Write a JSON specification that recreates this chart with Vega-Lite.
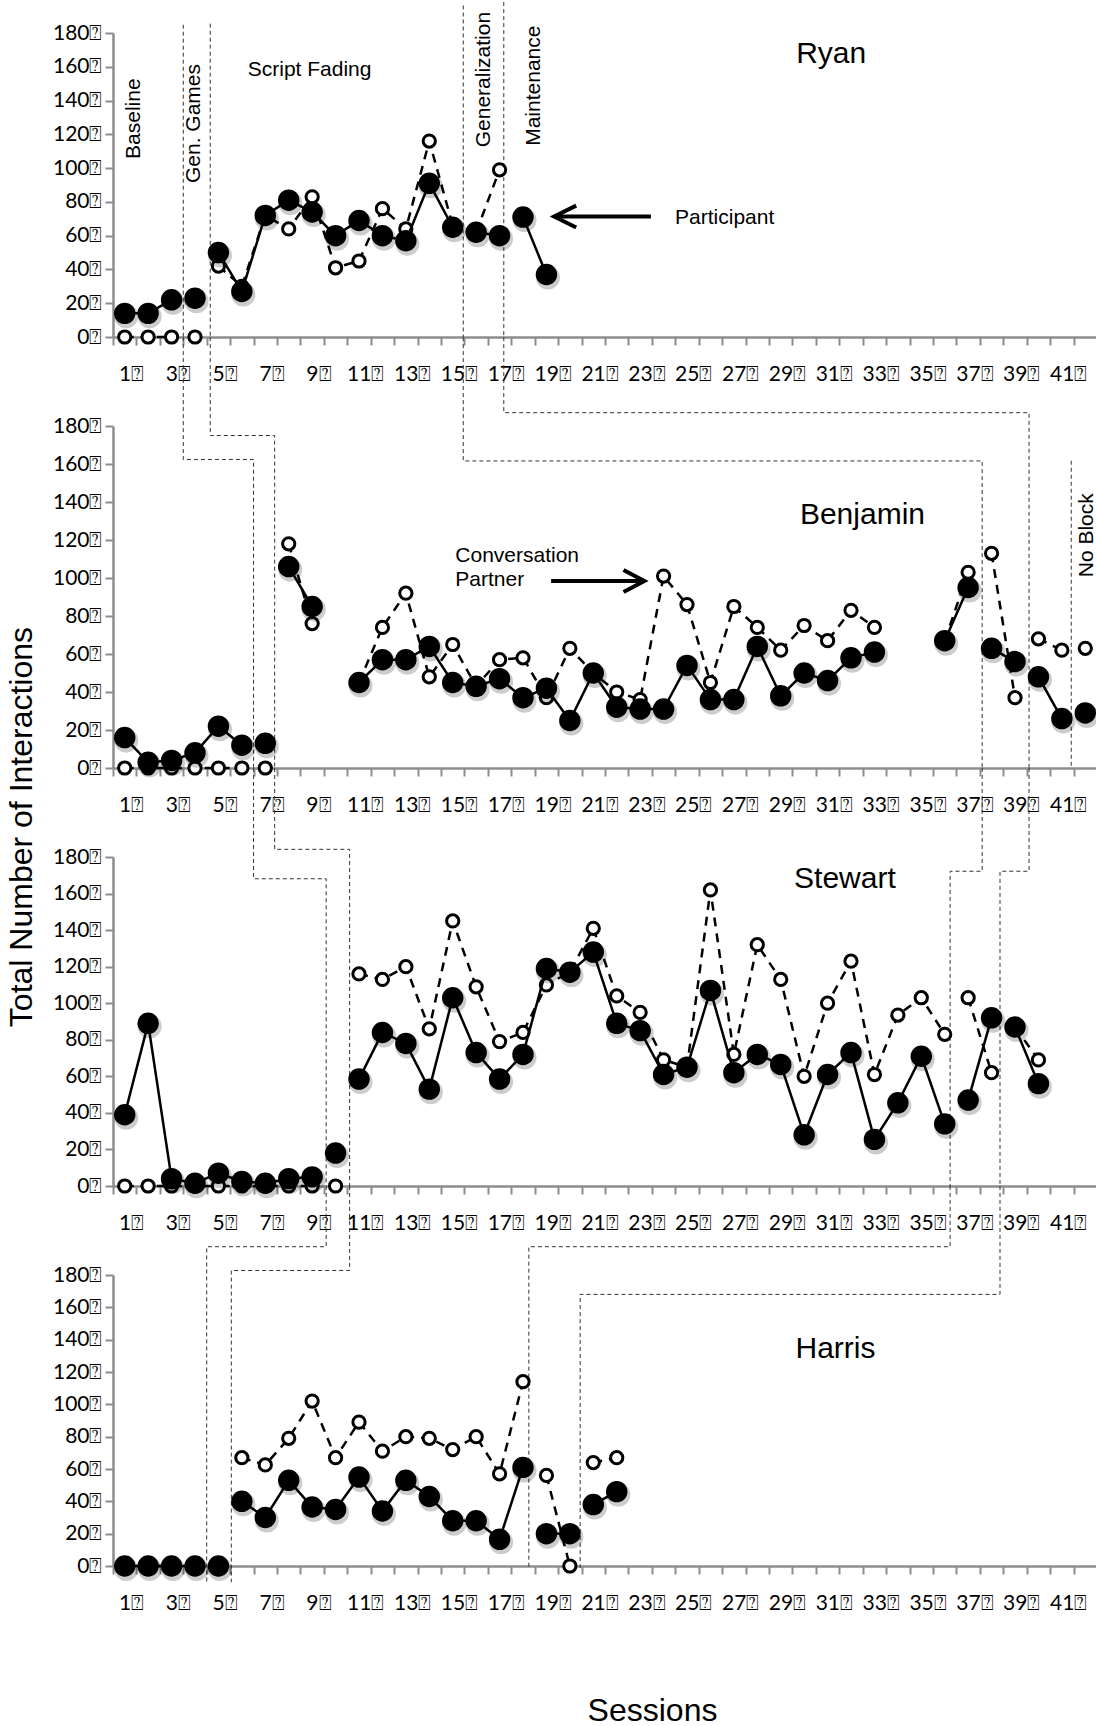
{
  "$schema": "https://vega.github.io/schema/vega-lite/v6.json",
  "background": "white",
  "padding": {"left": 6, "top": 0, "right": 0, "bottom": 0},
  "title": {"text": "Total Number of Interactions", "orient": "left", "anchor": "middle", "font": "Liberation Sans", "fontSize": 32, "fontWeight": "normal", "color": "#000", "offset": 13, "dx": 36},
  "spacing": 89,
  "bounds": "flush",
  "datasets": {
    "obs": [
      {"p":"R","s":1,"ph":"B","P":14,"C":0},{"p":"R","s":2,"ph":"B","P":14,"C":0},{"p":"R","s":3,"ph":"B","P":22,"C":0},{"p":"R","s":4,"ph":"G","P":23,"C":0},
      {"p":"R","s":5,"ph":"S","P":50,"C":42},{"p":"R","s":6,"ph":"S","P":27,"C":30},{"p":"R","s":7,"ph":"S","P":72,"C":72},{"p":"R","s":8,"ph":"S","P":81,"C":64},
      {"p":"R","s":9,"ph":"S","P":74,"C":83},{"p":"R","s":10,"ph":"S","P":60,"C":41},{"p":"R","s":11,"ph":"S","P":69,"C":45},{"p":"R","s":12,"ph":"S","P":60,"C":76},
      {"p":"R","s":13,"ph":"S","P":57,"C":64},{"p":"R","s":14,"ph":"S","P":91,"C":116},{"p":"R","s":15,"ph":"S","P":65,"C":66},{"p":"R","s":16,"ph":"Z","P":62,"C":62},
      {"p":"R","s":17,"ph":"Z","P":60,"C":99},{"p":"R","s":18,"ph":"M","P":71,"C":null},{"p":"R","s":19,"ph":"M","P":37,"C":null},

      {"p":"B","s":1,"ph":"B","P":16,"C":0},{"p":"B","s":2,"ph":"B","P":3,"C":0},{"p":"B","s":3,"ph":"B","P":4,"C":0},{"p":"B","s":4,"ph":"B","P":8,"C":0},
      {"p":"B","s":5,"ph":"B","P":22,"C":0},{"p":"B","s":6,"ph":"B","P":12,"C":0},{"p":"B","s":7,"ph":"G","P":13,"C":0},
      {"p":"B","s":8,"ph":"S","P":106,"C":118},{"p":"B","s":9,"ph":"S","P":85,"C":76},{"p":"B","s":10,"ph":"S","P":null,"C":null},
      {"p":"B","s":11,"ph":"S","P":45,"C":45},{"p":"B","s":12,"ph":"S","P":57,"C":74},{"p":"B","s":13,"ph":"S","P":57,"C":92},{"p":"B","s":14,"ph":"S","P":64,"C":48},
      {"p":"B","s":15,"ph":"S","P":45,"C":65},{"p":"B","s":16,"ph":"S","P":43,"C":43},{"p":"B","s":17,"ph":"S","P":47,"C":57},{"p":"B","s":18,"ph":"S","P":37,"C":58},
      {"p":"B","s":19,"ph":"S","P":42,"C":37},{"p":"B","s":20,"ph":"S","P":25,"C":63},{"p":"B","s":21,"ph":"S","P":50,"C":50},{"p":"B","s":22,"ph":"S","P":32,"C":40},
      {"p":"B","s":23,"ph":"S","P":31,"C":36},{"p":"B","s":24,"ph":"S","P":31,"C":101},{"p":"B","s":25,"ph":"S","P":54,"C":86},{"p":"B","s":26,"ph":"S","P":36,"C":45},
      {"p":"B","s":27,"ph":"S","P":36,"C":85},{"p":"B","s":28,"ph":"S","P":64,"C":74},{"p":"B","s":29,"ph":"S","P":38,"C":62},{"p":"B","s":30,"ph":"S","P":50,"C":75},
      {"p":"B","s":31,"ph":"S","P":46,"C":67},{"p":"B","s":32,"ph":"S","P":58,"C":83},{"p":"B","s":33,"ph":"S","P":61,"C":74},{"p":"B","s":34,"ph":"S","P":null,"C":null},
      {"p":"B","s":35,"ph":"S","P":null,"C":null},{"p":"B","s":36,"ph":"S","P":67,"C":67},{"p":"B","s":37,"ph":"S","P":95,"C":103},
      {"p":"B","s":38,"ph":"Z","P":63,"C":113},{"p":"B","s":39,"ph":"Z","P":56,"C":37},{"p":"B","s":40,"ph":"M","P":48,"C":68},{"p":"B","s":41,"ph":"M","P":26,"C":62},
      {"p":"B","s":42,"ph":"N","P":29,"C":63},

      {"p":"S","s":1,"ph":"B","P":39,"C":0},{"p":"S","s":2,"ph":"B","P":89,"C":0},{"p":"S","s":3,"ph":"B","P":4,"C":0},{"p":"S","s":4,"ph":"B","P":1.5,"C":0},
      {"p":"S","s":5,"ph":"B","P":7,"C":0},{"p":"S","s":6,"ph":"B","P":2.5,"C":0},{"p":"S","s":7,"ph":"B","P":1.5,"C":0},{"p":"S","s":8,"ph":"B","P":4,"C":0},
      {"p":"S","s":9,"ph":"B","P":5,"C":0},{"p":"S","s":10,"ph":"G","P":18,"C":0},
      {"p":"S","s":11,"ph":"S","P":58.5,"C":116},{"p":"S","s":12,"ph":"S","P":84,"C":113},{"p":"S","s":13,"ph":"S","P":78,"C":120},{"p":"S","s":14,"ph":"S","P":53,"C":86},
      {"p":"S","s":15,"ph":"S","P":103,"C":145},{"p":"S","s":16,"ph":"S","P":73,"C":109},{"p":"S","s":17,"ph":"S","P":58.5,"C":79},{"p":"S","s":18,"ph":"S","P":72,"C":84},
      {"p":"S","s":19,"ph":"S","P":119,"C":110},{"p":"S","s":20,"ph":"S","P":117,"C":117},{"p":"S","s":21,"ph":"S","P":128,"C":141},{"p":"S","s":22,"ph":"S","P":89,"C":104},
      {"p":"S","s":23,"ph":"S","P":85,"C":95},{"p":"S","s":24,"ph":"S","P":61,"C":69},{"p":"S","s":25,"ph":"S","P":65,"C":65},{"p":"S","s":26,"ph":"S","P":107,"C":162},
      {"p":"S","s":27,"ph":"S","P":62,"C":72},{"p":"S","s":28,"ph":"S","P":72,"C":132},{"p":"S","s":29,"ph":"S","P":66.5,"C":113},{"p":"S","s":30,"ph":"S","P":28,"C":60},
      {"p":"S","s":31,"ph":"S","P":61,"C":100},{"p":"S","s":32,"ph":"S","P":73,"C":123},{"p":"S","s":33,"ph":"S","P":25.5,"C":61},{"p":"S","s":34,"ph":"S","P":45.5,"C":93.5},
      {"p":"S","s":35,"ph":"S","P":71,"C":103},{"p":"S","s":36,"ph":"S","P":34,"C":83},
      {"p":"S","s":37,"ph":"Z","P":47,"C":103},{"p":"S","s":38,"ph":"Z","P":92,"C":62},{"p":"S","s":39,"ph":"M","P":87,"C":87},{"p":"S","s":40,"ph":"M","P":56,"C":69},

      {"p":"H","s":1,"ph":"B","P":0,"C":0},{"p":"H","s":2,"ph":"B","P":0,"C":0},{"p":"H","s":3,"ph":"B","P":0,"C":0},{"p":"H","s":4,"ph":"B","P":0,"C":0},
      {"p":"H","s":5,"ph":"G","P":0,"C":0},
      {"p":"H","s":6,"ph":"S","P":40,"C":67},{"p":"H","s":7,"ph":"S","P":30,"C":62.5},{"p":"H","s":8,"ph":"S","P":53,"C":79},{"p":"H","s":9,"ph":"S","P":36.5,"C":102},
      {"p":"H","s":10,"ph":"S","P":35,"C":67},{"p":"H","s":11,"ph":"S","P":55,"C":89},{"p":"H","s":12,"ph":"S","P":34,"C":71},{"p":"H","s":13,"ph":"S","P":53,"C":80},
      {"p":"H","s":14,"ph":"S","P":43,"C":79},{"p":"H","s":15,"ph":"S","P":28,"C":72},{"p":"H","s":16,"ph":"S","P":28,"C":80},{"p":"H","s":17,"ph":"S","P":16.5,"C":57},
      {"p":"H","s":18,"ph":"S","P":61,"C":114},{"p":"H","s":19,"ph":"Z","P":20,"C":56},{"p":"H","s":20,"ph":"Z","P":20,"C":0},
      {"p":"H","s":21,"ph":"M","P":38,"C":64},{"p":"H","s":22,"ph":"M","P":46,"C":67}
    ],
    "phases": [
      {"p":"R","id":"A","o":1,"s":3.5,"v":184.9},{"p":"R","id":"A","o":2,"s":3.5,"v":0},
      {"p":"R","id":"B","o":1,"s":4.65,"v":185.5},{"p":"R","id":"B","o":2,"s":4.65,"v":0},
      {"p":"R","id":"C","o":1,"s":15.45,"v":196.3},{"p":"R","id":"C","o":2,"s":15.45,"v":0},
      {"p":"R","id":"D","o":1,"s":17.18,"v":198.3},{"p":"R","id":"D","o":2,"s":17.18,"v":0},

      {"p":"B","id":"A","o":1,"s":3.5,"v":226.8},{"p":"B","id":"A","o":2,"s":3.5,"v":162.4},{"p":"B","id":"A","o":3,"s":6.5,"v":162.4},{"p":"B","id":"A","o":4,"s":6.5,"v":0},
      {"p":"B","id":"B","o":1,"s":4.65,"v":226.8},{"p":"B","id":"B","o":2,"s":4.65,"v":175},{"p":"B","id":"B","o":3,"s":7.4,"v":175},{"p":"B","id":"B","o":4,"s":7.4,"v":0},
      {"p":"B","id":"C","o":1,"s":15.45,"v":226.8},{"p":"B","id":"C","o":2,"s":15.45,"v":161.6},{"p":"B","id":"C","o":3,"s":37.6,"v":161.6},{"p":"B","id":"C","o":4,"s":37.6,"v":0},
      {"p":"B","id":"D","o":1,"s":17.18,"v":226.8},{"p":"B","id":"D","o":2,"s":17.18,"v":187},{"p":"B","id":"D","o":3,"s":39.6,"v":187},{"p":"B","id":"D","o":4,"s":39.6,"v":0},
      {"p":"B","id":"N","o":1,"s":41.4,"v":161.7},{"p":"B","id":"N","o":2,"s":41.4,"v":0},

      {"p":"S","id":"A","o":1,"s":6.5,"v":228.7},{"p":"S","id":"A","o":2,"s":6.5,"v":168.1},{"p":"S","id":"A","o":3,"s":9.6,"v":168.1},{"p":"S","id":"A","o":4,"s":9.6,"v":0},
      {"p":"S","id":"B","o":1,"s":7.4,"v":228.7},{"p":"S","id":"B","o":2,"s":7.4,"v":184.2},{"p":"S","id":"B","o":3,"s":10.6,"v":184.2},{"p":"S","id":"B","o":4,"s":10.6,"v":0},
      {"p":"S","id":"C","o":1,"s":37.6,"v":228.7},{"p":"S","id":"C","o":2,"s":37.6,"v":172.2},{"p":"S","id":"C","o":3,"s":36.23,"v":172.2},{"p":"S","id":"C","o":4,"s":36.23,"v":0},
      {"p":"S","id":"D","o":1,"s":39.6,"v":228.7},{"p":"S","id":"D","o":2,"s":39.6,"v":172.2},{"p":"S","id":"D","o":3,"s":38.36,"v":172.2},{"p":"S","id":"D","o":4,"s":38.36,"v":0},

      {"p":"H","id":"A","o":1,"s":9.6,"v":235.1},{"p":"H","id":"A","o":2,"s":9.6,"v":197.5},{"p":"H","id":"A","o":3,"s":4.5,"v":197.5},{"p":"H","id":"A","o":4,"s":4.5,"v":-10},
      {"p":"H","id":"B","o":1,"s":10.6,"v":235.1},{"p":"H","id":"B","o":2,"s":10.6,"v":182.8},{"p":"H","id":"B","o":3,"s":5.55,"v":182.8},{"p":"H","id":"B","o":4,"s":5.55,"v":-10},
      {"p":"H","id":"C","o":1,"s":36.23,"v":235.1},{"p":"H","id":"C","o":2,"s":36.23,"v":197.5},{"p":"H","id":"C","o":3,"s":18.25,"v":197.5},{"p":"H","id":"C","o":4,"s":18.25,"v":-2},
      {"p":"H","id":"D","o":1,"s":38.36,"v":235.1},{"p":"H","id":"D","o":2,"s":38.36,"v":168},{"p":"H","id":"D","o":3,"s":20.44,"v":168},{"p":"H","id":"D","o":4,"s":20.44,"v":-2}
    ],
    "names": [
      {"p":"R","s":29.66,"v":167.8,"t":"Ryan"},
      {"p":"B","s":29.82,"v":133.4,"t":"Benjamin"},
      {"p":"S","s":29.57,"v":168.1,"t":"Stewart"},
      {"p":"H","s":29.63,"v":134,"t":"Harris"}
    ],
    "notes": [
      {"p":"R","s":6.25,"v":157.9,"t":"Script Fading"},
      {"p":"R","s":24.49,"v":70.2,"t":"Participant"},
      {"p":"B","s":15.11,"v":111.5,"t":"Conversation"},
      {"p":"B","s":15.11,"v":99.2,"t":"Partner"}
    ],
    "vnotes": [
      {"p":"R","s":1.4,"v":129.3,"t":"Baseline"},
      {"p":"R","s":3.97,"v":126.4,"t":"Gen. Games"},
      {"p":"R","s":16.35,"v":152.4,"t":"Generalization"},
      {"p":"R","s":18.49,"v":148.8,"t":"Maintenance"},
      {"p":"B","s":42.08,"v":122.5,"t":"No Block"}
    ],
    "arrows": [
      {"p":"R","id":"s","o":1,"s":19.33,"v":71.3},{"p":"R","id":"s","o":2,"s":23.46,"v":71.3},
      {"p":"R","id":"h","o":1,"s":20.27,"v":77.8},{"p":"R","id":"h","o":2,"s":19.33,"v":71.3},{"p":"R","id":"h","o":3,"s":20.27,"v":64.8},
      {"p":"B","id":"s","o":1,"s":19.2,"v":98.4},{"p":"B","id":"s","o":2,"s":23.18,"v":98.4},
      {"p":"B","id":"h","o":1,"s":22.29,"v":104.2},{"p":"B","id":"h","o":2,"s":23.18,"v":98.4},{"p":"B","id":"h","o":3,"s":22.29,"v":92.6}
    ]
  },
  "vconcat": [
    {
      "width": 984, "height": 304,
      "encoding": {
        "x": {"field": "s", "type": "quantitative", "scale": {"domain": [0.5, 42.5], "nice": false, "zero": false},
              "axis": {"title": null, "values": [0.5,1.5,2.5,3.5,4.5,5.5,6.5,7.5,8.5,9.5,10.5,11.5,12.5,13.5,14.5,15.5,16.5,17.5,18.5,19.5,20.5,21.5,22.5,23.5,24.5,25.5,26.5,27.5,28.5,29.5,30.5,31.5,32.5,33.5,34.5,35.5,36.5,37.5,38.5,39.5,40.5,41.5,42.5],
                       "labelExpr": "(datum.value + 0.5) % 2 == 1 && datum.value < 42 ? (datum.value + 0.5) + '\u2370' : ''",
                       "labelOffset": 18, "labelPadding": 18, "tickSize": 8, "labelOverlap": false, "labelFlush": false, "labelBound": false}},
        "y": {"field": "v", "type": "quantitative", "scale": {"domain": [0, 180], "nice": false, "zero": false},
              "axis": {"title": null, "values": [0,20,40,60,80,100,120,140,160,180], "labelExpr": "datum.value + '\u2370'", "tickSize": 8, "labelPadding": 3, "labelFlush": false, "labelOverlap": false}}
      },
      "layer": [
        {"data": {"name": "phases"}, "transform": [{"filter": "datum.p == 'R'"}], "mark": {"type": "line", "color": "#333", "strokeWidth": 1, "strokeDash": [4, 3]}, "encoding": {"detail": {"field": "id"}, "order": {"field": "o"}}},
        {"data": {"name": "obs"}, "transform": [{"filter": "datum.p == 'R'"}, {"fold": ["P", "C"], "as": ["w", "v"]}, {"filter": "datum.w == 'C'"}], "mark": {"type": "line", "color": "#000", "strokeWidth": 2.5, "strokeDash": [9, 7]}, "encoding": {"detail": {"field": "ph"}}},
        {"data": {"name": "obs"}, "transform": [{"filter": "datum.p == 'R'"}, {"fold": ["P", "C"], "as": ["w", "v"]}, {"filter": "datum.w == 'C'"}], "mark": {"type": "point", "shape": "circle", "filled": true, "fill": "#fff", "stroke": "#000", "strokeWidth": 3, "opacity": 1, "size": 150}},
        {"data": {"name": "obs"}, "transform": [{"filter": "datum.p == 'R'"}, {"fold": ["P", "C"], "as": ["w", "v"]}, {"filter": "datum.w == 'P'"}], "mark": {"type": "line", "color": "#000", "strokeWidth": 2.5}, "encoding": {"detail": {"field": "ph"}}},
        {"data": {"name": "obs"}, "transform": [{"filter": "datum.p == 'R'"}, {"fold": ["P", "C"], "as": ["w", "v"]}, {"filter": "datum.w == 'P'"}], "mark": {"type": "point", "shape": "circle", "filled": true, "color": "#000", "opacity": 0.2, "size": 580, "xOffset": 1.5, "yOffset": 3}},
        {"data": {"name": "obs"}, "transform": [{"filter": "datum.p == 'R'"}, {"fold": ["P", "C"], "as": ["w", "v"]}, {"filter": "datum.w == 'P'"}], "mark": {"type": "point", "shape": "circle", "filled": true, "color": "#000", "opacity": 1, "size": 460}},
        {"data": {"name": "arrows"}, "transform": [{"filter": "datum.p == 'R'"}], "mark": {"type": "line", "color": "#000", "strokeWidth": 4, "strokeJoin": "miter"}, "encoding": {"detail": {"field": "id"}, "order": {"field": "o"}}},
        {"data": {"name": "names"}, "transform": [{"filter": "datum.p == 'R'"}], "mark": {"type": "text", "font": "Liberation Sans", "fontSize": 30, "align": "left", "baseline": "middle", "color": "#000"}, "encoding": {"text": {"field": "t"}}},
        {"data": {"name": "notes"}, "transform": [{"filter": "datum.p == 'R'"}], "mark": {"type": "text", "font": "Liberation Sans", "fontSize": 21, "align": "left", "baseline": "middle", "color": "#000"}, "encoding": {"text": {"field": "t"}}},
        {"data": {"name": "vnotes"}, "transform": [{"filter": "datum.p == 'R'"}], "mark": {"type": "text", "font": "Liberation Sans", "fontSize": 21, "align": "center", "baseline": "middle", "angle": 270, "color": "#000"}, "encoding": {"text": {"field": "t"}}}
      ]
    },
    {
      "width": 984, "height": 342,
      "encoding": {
        "x": {"field": "s", "type": "quantitative", "scale": {"domain": [0.5, 42.5], "nice": false, "zero": false},
              "axis": {"title": null, "values": [0.5,1.5,2.5,3.5,4.5,5.5,6.5,7.5,8.5,9.5,10.5,11.5,12.5,13.5,14.5,15.5,16.5,17.5,18.5,19.5,20.5,21.5,22.5,23.5,24.5,25.5,26.5,27.5,28.5,29.5,30.5,31.5,32.5,33.5,34.5,35.5,36.5,37.5,38.5,39.5,40.5,41.5,42.5],
                       "labelExpr": "(datum.value + 0.5) % 2 == 1 && datum.value < 42 ? (datum.value + 0.5) + '\u2370' : ''",
                       "labelOffset": 18, "labelPadding": 18, "tickSize": 8, "labelOverlap": false, "labelFlush": false, "labelBound": false}},
        "y": {"field": "v", "type": "quantitative", "scale": {"domain": [0, 180], "nice": false, "zero": false},
              "axis": {"title": null, "values": [0,20,40,60,80,100,120,140,160,180], "labelExpr": "datum.value + '\u2370'", "tickSize": 8, "labelPadding": 3, "labelFlush": false, "labelOverlap": false}}
      },
      "layer": [
        {"data": {"name": "phases"}, "transform": [{"filter": "datum.p == 'B'"}], "mark": {"type": "line", "color": "#333", "strokeWidth": 1, "strokeDash": [4, 3]}, "encoding": {"detail": {"field": "id"}, "order": {"field": "o"}}},
        {"data": {"name": "obs"}, "transform": [{"filter": "datum.p == 'B'"}, {"fold": ["P", "C"], "as": ["w", "v"]}, {"filter": "datum.w == 'C'"}], "mark": {"type": "line", "color": "#000", "strokeWidth": 2.5, "strokeDash": [9, 7]}, "encoding": {"detail": {"field": "ph"}}},
        {"data": {"name": "obs"}, "transform": [{"filter": "datum.p == 'B'"}, {"fold": ["P", "C"], "as": ["w", "v"]}, {"filter": "datum.w == 'C'"}], "mark": {"type": "point", "shape": "circle", "filled": true, "fill": "#fff", "stroke": "#000", "strokeWidth": 3, "opacity": 1, "size": 150}},
        {"data": {"name": "obs"}, "transform": [{"filter": "datum.p == 'B'"}, {"fold": ["P", "C"], "as": ["w", "v"]}, {"filter": "datum.w == 'P'"}], "mark": {"type": "line", "color": "#000", "strokeWidth": 2.5}, "encoding": {"detail": {"field": "ph"}}},
        {"data": {"name": "obs"}, "transform": [{"filter": "datum.p == 'B'"}, {"fold": ["P", "C"], "as": ["w", "v"]}, {"filter": "datum.w == 'P'"}], "mark": {"type": "point", "shape": "circle", "filled": true, "color": "#000", "opacity": 0.2, "size": 580, "xOffset": 1.5, "yOffset": 3}},
        {"data": {"name": "obs"}, "transform": [{"filter": "datum.p == 'B'"}, {"fold": ["P", "C"], "as": ["w", "v"]}, {"filter": "datum.w == 'P'"}], "mark": {"type": "point", "shape": "circle", "filled": true, "color": "#000", "opacity": 1, "size": 460}},
        {"data": {"name": "arrows"}, "transform": [{"filter": "datum.p == 'B'"}], "mark": {"type": "line", "color": "#000", "strokeWidth": 4, "strokeJoin": "miter"}, "encoding": {"detail": {"field": "id"}, "order": {"field": "o"}}},
        {"data": {"name": "names"}, "transform": [{"filter": "datum.p == 'B'"}], "mark": {"type": "text", "font": "Liberation Sans", "fontSize": 30, "align": "left", "baseline": "middle", "color": "#000"}, "encoding": {"text": {"field": "t"}}},
        {"data": {"name": "notes"}, "transform": [{"filter": "datum.p == 'B'"}], "mark": {"type": "text", "font": "Liberation Sans", "fontSize": 21, "align": "left", "baseline": "middle", "color": "#000"}, "encoding": {"text": {"field": "t"}}},
        {"data": {"name": "vnotes"}, "transform": [{"filter": "datum.p == 'B'"}], "mark": {"type": "text", "font": "Liberation Sans", "fontSize": 21, "align": "center", "baseline": "middle", "angle": 270, "color": "#000"}, "encoding": {"text": {"field": "t"}}}
      ]
    },
    {
      "width": 984, "height": 329,
      "encoding": {
        "x": {"field": "s", "type": "quantitative", "scale": {"domain": [0.5, 42.5], "nice": false, "zero": false},
              "axis": {"title": null, "values": [0.5,1.5,2.5,3.5,4.5,5.5,6.5,7.5,8.5,9.5,10.5,11.5,12.5,13.5,14.5,15.5,16.5,17.5,18.5,19.5,20.5,21.5,22.5,23.5,24.5,25.5,26.5,27.5,28.5,29.5,30.5,31.5,32.5,33.5,34.5,35.5,36.5,37.5,38.5,39.5,40.5,41.5,42.5],
                       "labelExpr": "(datum.value + 0.5) % 2 == 1 && datum.value < 42 ? (datum.value + 0.5) + '\u2370' : ''",
                       "labelOffset": 18, "labelPadding": 18, "tickSize": 8, "labelOverlap": false, "labelFlush": false, "labelBound": false}},
        "y": {"field": "v", "type": "quantitative", "scale": {"domain": [0, 180], "nice": false, "zero": false},
              "axis": {"title": null, "values": [0,20,40,60,80,100,120,140,160,180], "labelExpr": "datum.value + '\u2370'", "tickSize": 8, "labelPadding": 3, "labelFlush": false, "labelOverlap": false}}
      },
      "layer": [
        {"data": {"name": "phases"}, "transform": [{"filter": "datum.p == 'S'"}], "mark": {"type": "line", "color": "#333", "strokeWidth": 1, "strokeDash": [4, 3]}, "encoding": {"detail": {"field": "id"}, "order": {"field": "o"}}},
        {"data": {"name": "obs"}, "transform": [{"filter": "datum.p == 'S'"}, {"fold": ["P", "C"], "as": ["w", "v"]}, {"filter": "datum.w == 'C'"}], "mark": {"type": "line", "color": "#000", "strokeWidth": 2.5, "strokeDash": [9, 7]}, "encoding": {"detail": {"field": "ph"}}},
        {"data": {"name": "obs"}, "transform": [{"filter": "datum.p == 'S'"}, {"fold": ["P", "C"], "as": ["w", "v"]}, {"filter": "datum.w == 'C'"}], "mark": {"type": "point", "shape": "circle", "filled": true, "fill": "#fff", "stroke": "#000", "strokeWidth": 3, "opacity": 1, "size": 150}},
        {"data": {"name": "obs"}, "transform": [{"filter": "datum.p == 'S'"}, {"fold": ["P", "C"], "as": ["w", "v"]}, {"filter": "datum.w == 'P'"}], "mark": {"type": "line", "color": "#000", "strokeWidth": 2.5}, "encoding": {"detail": {"field": "ph"}}},
        {"data": {"name": "obs"}, "transform": [{"filter": "datum.p == 'S'"}, {"fold": ["P", "C"], "as": ["w", "v"]}, {"filter": "datum.w == 'P'"}], "mark": {"type": "point", "shape": "circle", "filled": true, "color": "#000", "opacity": 0.2, "size": 580, "xOffset": 1.5, "yOffset": 3}},
        {"data": {"name": "obs"}, "transform": [{"filter": "datum.p == 'S'"}, {"fold": ["P", "C"], "as": ["w", "v"]}, {"filter": "datum.w == 'P'"}], "mark": {"type": "point", "shape": "circle", "filled": true, "color": "#000", "opacity": 1, "size": 460}},
        {"data": {"name": "names"}, "transform": [{"filter": "datum.p == 'S'"}], "mark": {"type": "text", "font": "Liberation Sans", "fontSize": 30, "align": "left", "baseline": "middle", "color": "#000"}, "encoding": {"text": {"field": "t"}}}
      ]
    },
    {
      "width": 984, "height": 291,
      "encoding": {
        "x": {"field": "s", "type": "quantitative", "scale": {"domain": [0.5, 42.5], "nice": false, "zero": false},
              "axis": {"title": "Sessions", "titleFont": "Liberation Sans", "titleFontSize": 32, "titleFontWeight": "normal", "titleColor": "#000", "titleX": 539, "titleY": 144, "titleAlign": "center", "titleBaseline": "middle",
                       "values": [0.5,1.5,2.5,3.5,4.5,5.5,6.5,7.5,8.5,9.5,10.5,11.5,12.5,13.5,14.5,15.5,16.5,17.5,18.5,19.5,20.5,21.5,22.5,23.5,24.5,25.5,26.5,27.5,28.5,29.5,30.5,31.5,32.5,33.5,34.5,35.5,36.5,37.5,38.5,39.5,40.5,41.5,42.5],
                       "labelExpr": "(datum.value + 0.5) % 2 == 1 && datum.value < 42 ? (datum.value + 0.5) + '\u2370' : ''",
                       "labelOffset": 18, "labelPadding": 18, "tickSize": 8, "labelOverlap": false, "labelFlush": false, "labelBound": false}},
        "y": {"field": "v", "type": "quantitative", "scale": {"domain": [0, 180], "nice": false, "zero": false},
              "axis": {"title": null, "values": [0,20,40,60,80,100,120,140,160,180], "labelExpr": "datum.value + '\u2370'", "tickSize": 8, "labelPadding": 3, "labelFlush": false, "labelOverlap": false}}
      },
      "layer": [
        {"data": {"name": "phases"}, "transform": [{"filter": "datum.p == 'H'"}], "mark": {"type": "line", "color": "#333", "strokeWidth": 1, "strokeDash": [4, 3]}, "encoding": {"detail": {"field": "id"}, "order": {"field": "o"}}},
        {"data": {"name": "obs"}, "transform": [{"filter": "datum.p == 'H'"}, {"fold": ["P", "C"], "as": ["w", "v"]}, {"filter": "datum.w == 'C'"}], "mark": {"type": "line", "color": "#000", "strokeWidth": 2.5, "strokeDash": [9, 7]}, "encoding": {"detail": {"field": "ph"}}},
        {"data": {"name": "obs"}, "transform": [{"filter": "datum.p == 'H'"}, {"fold": ["P", "C"], "as": ["w", "v"]}, {"filter": "datum.w == 'C'"}], "mark": {"type": "point", "shape": "circle", "filled": true, "fill": "#fff", "stroke": "#000", "strokeWidth": 3, "opacity": 1, "size": 150}},
        {"data": {"name": "obs"}, "transform": [{"filter": "datum.p == 'H'"}, {"fold": ["P", "C"], "as": ["w", "v"]}, {"filter": "datum.w == 'P'"}], "mark": {"type": "line", "color": "#000", "strokeWidth": 2.5}, "encoding": {"detail": {"field": "ph"}}},
        {"data": {"name": "obs"}, "transform": [{"filter": "datum.p == 'H'"}, {"fold": ["P", "C"], "as": ["w", "v"]}, {"filter": "datum.w == 'P'"}], "mark": {"type": "point", "shape": "circle", "filled": true, "color": "#000", "opacity": 0.2, "size": 580, "xOffset": 1.5, "yOffset": 3}},
        {"data": {"name": "obs"}, "transform": [{"filter": "datum.p == 'H'"}, {"fold": ["P", "C"], "as": ["w", "v"]}, {"filter": "datum.w == 'P'"}], "mark": {"type": "point", "shape": "circle", "filled": true, "color": "#000", "opacity": 1, "size": 460}},
        {"data": {"name": "names"}, "transform": [{"filter": "datum.p == 'H'"}], "mark": {"type": "text", "font": "Liberation Sans", "fontSize": 30, "align": "left", "baseline": "middle", "color": "#000"}, "encoding": {"text": {"field": "t"}}}
      ]
    }
  ],
  "config": {
    "view": {"stroke": null},
    "axis": {"grid": false, "domainColor": "#8c8c8c", "domainWidth": 2.5, "tickColor": "#8c8c8c", "tickWidth": 2, "labelFont": "Lato", "labelFontSize": 21, "labelColor": "#000"}
  }
}
